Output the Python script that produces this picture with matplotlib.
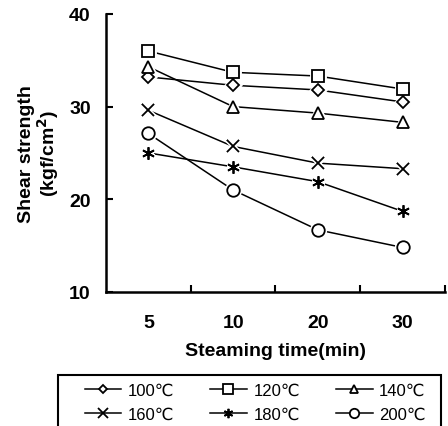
import matplotlib
matplotlib.use('Agg')
import matplotlib.pyplot as plt
from matplotlib.patches import Rectangle

plt.rcParams['font.family'] = ['Liberation Sans', 'DejaVu Sans']

times = ['5', '10', '20', '30']
s100 = [33.2, 32.3, 31.8, 30.5]
s120 = [36.0, 33.7, 33.3, 31.9]
s140 = [34.3, 30.0, 29.3, 28.3]
s160 = [29.6, 25.7, 23.9, 23.3]
s180 = [25.0, 23.5, 21.9, 18.7]
s200 = [27.1, 21.0, 16.7, 14.8]
labels = ['100℃', '120℃', '140℃', '160℃', '180℃', '200℃']
markers = ['D', 's', '^', 'x', (6, 2, 0), 'o']
sizes = [6, 9, 8, 9, 9, 9]

series = [s100, s120, s140, s160, s180, s200]

fig = plt.figure(figsize=(4.48, 4.27), dpi=100)
ax = fig.add_axes([0.2366, 0.314, 0.7564, 0.651])

x = list(range(len(times)))
handles = []
for vals, lab, mk, ms in zip(series, labels, markers, sizes):
    # line with markers (used for the legend)
    h, = ax.plot(x, vals, color='black', linewidth=1.1, marker=mk, markersize=ms,
                 markerfacecolor='white', markeredgecolor='black',
                 markeredgewidth=1.3, label=lab, zorder=2)
    handles.append(h)
    # white halo so the line stops short of the marker
    ax.plot(x, vals, linestyle='none', marker=mk, markersize=ms,
            markerfacecolor='white', markeredgecolor='white',
            markeredgewidth=3.5, zorder=3)
    ax.plot(x, vals, linestyle='none', marker=mk, markersize=ms,
            markerfacecolor='white', markeredgecolor='black',
            markeredgewidth=1.3, zorder=4)

ax.set_xlim(-0.5, 3.5)
ax.set_ylim(10, 40)
ax.set_yticks([10, 20, 30, 40])
ax.set_xticks([0.5, 1.5, 2.5, 3.5])
ax.set_xticklabels([])
ax.set_xticks(x, minor=True)
ax.set_xticklabels(times, minor=True)
ax.tick_params(axis='x', which='minor', length=0, pad=16, labelsize=14)
ax.tick_params(axis='both', which='major', direction='in', length=5, width=1.5)
ax.tick_params(axis='y', labelsize=14, pad=11)
for t in ax.get_xticklabels(minor=True) + ax.get_yticklabels():
    t.set_fontweight('bold')
ax.spines['top'].set_visible(False)
ax.spines['right'].set_visible(False)
ax.spines['left'].set_linewidth(1.8)
ax.spines['bottom'].set_linewidth(1.8)

ax.set_xlabel('Steaming time(min)', fontsize=14, fontweight='bold', labelpad=8)
ax.set_ylabel('Shear strength\n(kgf/cm$^{\\mathbf{2}}$)', fontsize=14,
              fontweight='bold', labelpad=6, linespacing=1.0)

# legend box frame (drawn separately so the entries can sit further in)
fig.patches.append(Rectangle((0.1295, -0.02), 0.855, 0.1394, transform=fig.transFigure,
                             fill=False, edgecolor='black', linewidth=1.5))

order = [0, 3, 1, 4, 2, 5]
leg = fig.legend([handles[i] for i in order], [labels[i] for i in order],
                 ncol=3, loc='upper left', mode='expand',
                 bbox_to_anchor=(0.172, -0.03, 0.795, 0.149), borderaxespad=0,
                 frameon=False, fontsize=12,
                 handlelength=2.2, handletextpad=0.4, columnspacing=2.0,
                 labelspacing=0.55, borderpad=0.45, markerscale=0.75)

fig.savefig('out.png', dpi=100)
